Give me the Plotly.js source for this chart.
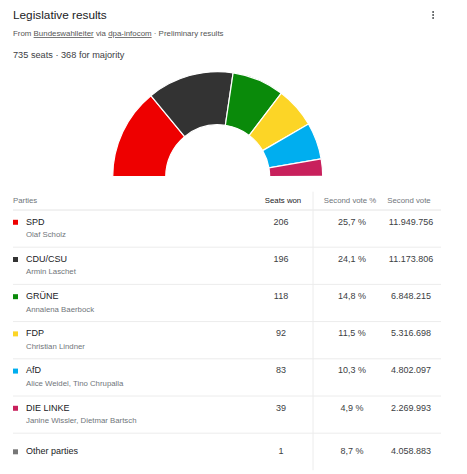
<!DOCTYPE html>
<html><head><meta charset="utf-8">
<script src="https://cdn.plot.ly/plotly-3.0.1.min.js"></script>
<style>html,body{margin:0;padding:0;background:#fff}#chart{width:467px;height:474px}</style>
</head><body><div id="chart"></div>
<script>
// ---- data ----
const parties  = ['SPD','CDU/CSU','GRÜNE','FDP','AfD','DIE LINKE','Other parties'];
const leaders  = ['Olaf Scholz','Armin Laschet','Annalena Baerbock','Christian Lindner','Alice Weidel, Tino Chrupalla','Janine Wissler, Dietmar Bartsch',''];
const seats    = [206,196,118,92,83,39,1];
const votePct  = [25.7,24.1,14.8,11.5,10.3,4.9,8.7];
const votes    = [11949756,11173806,6848215,5316698,4802097,2269993,4058883];
const colors   = ['#ee0000','#333333','#0a8a0a','#fcd526','#00aeef','#c8205c','#777777'];
const headers  = ['Parties','Seats won','Second vote %','Second vote'];
const totalSeats = 735, majority = 368;

// ---- layout constants ----
const W = 467, H = 474;
const FONT = '"Liberation Sans", Arial, sans-serif';
const COL = {sq: 15.5, name: 26, seats: 281, pct: 352, votes: 411, left: 13, right: 441, vline: 313};
const HDR_X = [13, 283, 350, 409];

function fmtPct(v){ return v.toFixed(1).replace('.', ',') + ' %'; }
function fmtInt(v){ return String(v).replace(/\B(?=(\d{3})+(?!\d))/g, '.'); }

const rows  = parties.map((_, i) => i);
const nameY = rows.map(i => leaders[i] ? i + 0.33 : i + 0.5);
const subIdx = rows.filter(i => leaders[i]);

const px = v => v / W, py = v => 1 - v / H;

const traces = [
  {
    type: 'pie', sort: false, direction: 'clockwise', rotation: -90,
    values: seats.concat([seats.reduce((a, b) => a + b, 0)]),
    labels: parties.concat(['hidden']),
    marker: {colors: colors.concat(['rgba(0,0,0,0)']),
             line: {color: '#ffffff', width: seats.map(() => 1.2).concat([0])}},
    hole: 0.495, textinfo: 'none', hoverinfo: 'skip', showlegend: false,
    domain: {x: [px(112.7), px(322.7)], y: [py(281.7), py(71.7)]}
  },
  { // colour squares
    type: 'scatter', mode: 'markers', x: rows.map(() => COL.sq), y: nameY,
    marker: {symbol: 'square', size: 5, color: colors}, hoverinfo: 'skip', cliponaxis: false
  },
  { // party names
    type: 'scatter', mode: 'text', x: rows.map(() => COL.name), y: nameY, text: parties,
    textposition: 'middle right', textfont: {family: FONT, size: 9, color: '#202124'}, hoverinfo: 'skip', cliponaxis: false
  },
  { // leaders
    type: 'scatter', mode: 'text', x: subIdx.map(() => COL.name), y: subIdx.map(i => i + 0.68),
    text: subIdx.map(i => leaders[i]),
    textposition: 'middle right', textfont: {family: FONT, size: 7.8, color: '#70757a'}, hoverinfo: 'skip', cliponaxis: false
  },
  { // seats
    type: 'scatter', mode: 'text', x: rows.map(() => COL.seats), y: nameY, text: seats.map(String),
    textposition: 'middle center', textfont: {family: FONT, size: 9, color: '#3c4043'}, hoverinfo: 'skip', cliponaxis: false
  },
  { // vote %
    type: 'scatter', mode: 'text', x: rows.map(() => COL.pct), y: nameY, text: votePct.map(fmtPct),
    textposition: 'middle center', textfont: {family: FONT, size: 9, color: '#3c4043'}, hoverinfo: 'skip', cliponaxis: false
  },
  { // votes
    type: 'scatter', mode: 'text', x: rows.map(() => COL.votes), y: nameY, text: votes.map(fmtInt),
    textposition: 'middle center', textfont: {family: FONT, size: 9, color: '#3c4043'}, hoverinfo: 'skip', cliponaxis: false
  },
  { // header
    type: 'scatter', mode: 'text', x: HDR_X, y: headers.map(() => -0.24), text: headers,
    textposition: ['middle right', 'middle center', 'middle center', 'middle center'],
    textfont: {family: FONT, size: 7.8, color: ['#70757a', '#202124', '#70757a', '#70757a']}, hoverinfo: 'skip', cliponaxis: false
  }
];

const shapes = [];
for (let i = 0; i < parties.length; i++) {
  shapes.push({type: 'line', xref: 'x', yref: 'y', x0: COL.left, x1: COL.right, y0: i, y1: i,
               line: {color: i === 0 ? '#e4e4e4' : '#ececec', width: 1}});
}
shapes.push({type: 'line', xref: 'x', yref: 'y', x0: COL.vline, x1: COL.vline, y0: -0.5, y1: 7,
             line: {color: '#ececec', width: 1}});
[12, 15, 18].forEach(y => shapes.push({type: 'circle', xref: 'x', yref: 'paper', fillcolor: '#3c4043', line: {width: 0},
  x0: 432.2, x1: 434.0, y0: py(y + 0.9), y1: py(y - 0.9)}));

const annotations = [
  {text: 'Legislative results', x: px(13), y: py(15), font: {family: FONT, size: 11.8, color: '#202124'}},
  {text: 'From <u>Bundeswahlleiter</u> via <u>dpa-infocom</u> · Preliminary results', x: px(13), y: py(33),
   font: {family: FONT, size: 7.9, color: '#555555'}},
  {text: totalSeats + ' seats · ' + majority + ' for majority', x: px(13), y: py(55),
   font: {family: FONT, size: 9.2, color: '#3c4043'}}
].map(a => Object.assign({xref: 'paper', yref: 'paper', xanchor: 'left', yanchor: 'middle', showarrow: false, borderpad: 0, borderwidth: 0}, a));

const layout = {
  width: W, height: H, margin: {l: 0, r: 0, t: 0, b: 0},
  paper_bgcolor: '#ffffff', plot_bgcolor: 'rgba(0,0,0,0)', showlegend: false,
  xaxis: {range: [0, W], domain: [0, 1], visible: false, fixedrange: true},
  yaxis: {range: [7, -0.5], domain: [py(470.4), py(191.4)], visible: false, fixedrange: true},
  shapes: shapes, annotations: annotations, font: {family: FONT}
};

Plotly.newPlot('chart', traces, layout, {staticPlot: true, displayModeBar: false});
</script>
</body></html>
